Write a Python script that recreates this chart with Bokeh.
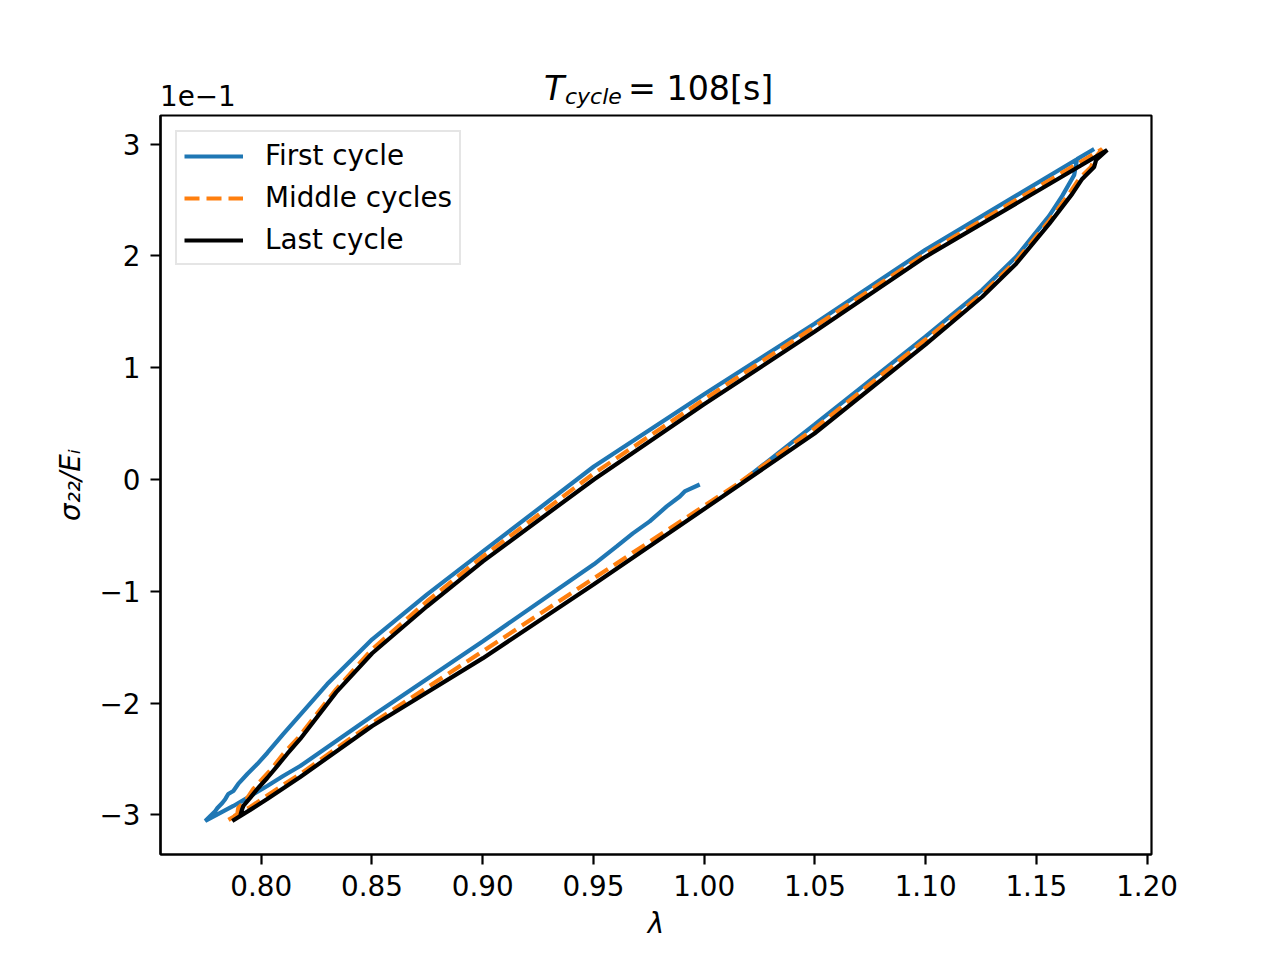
from bokeh.plotting import figure
from bokeh.layouts import column
from bokeh.models import (Range1d, FixedTicker, CustomJSTickFormatter,
                          Legend, LegendItem, Div)
from bokeh.embed import file_html
from bokeh.resources import INLINE

# ---------------- data (lambda, sigma22/E_i) ----------------
first_lam = [0.9980, 0.9912, 0.9890, 0.9831, 0.9754, 0.9678, 0.9605, 0.9502,
             0.9001, 0.8501, 0.8176, 0.8099, 0.8027, 0.7937, 0.7874, 0.7815,
             0.7747,
             0.7793, 0.7802, 0.7824, 0.7838, 0.7851, 0.7874, 0.7896, 0.7937,
             0.7982, 0.8027, 0.8099, 0.8298, 0.8501, 0.8749,
             0.9001, 0.9502, 0.9998, 1.0498, 1.0999, 1.1761,
             1.1684, 1.1671, 1.1617, 1.1558, 1.1409, 1.1256, 1.0999, 1.0498,
             1.0183]
first_sig = [-0.0045, -0.0107, -0.0152, -0.0241, -0.0375, -0.0482, -0.0598, -0.0759,
             -0.1446, -0.2116, -0.2563, -0.2652, -0.2741, -0.2848, -0.2920, -0.2982,
             -0.3054,
             -0.2964, -0.2938, -0.2893, -0.2857, -0.2813, -0.2786, -0.2723, -0.2634,
             -0.2545, -0.2446, -0.2277, -0.1830, -0.1429, -0.1027,
             -0.0643, 0.0116, 0.0759, 0.1393, 0.2054, 0.2955,
             0.2866, 0.2723, 0.2536, 0.2357, 0.1991, 0.1696, 0.1277, 0.0491,
             0.0000]

middle_lam = [1.0147, 0.9502, 0.9001, 0.8501, 0.8176, 0.8099, 0.7950, 0.7851,
              0.7892, 0.7896, 0.7928, 0.7964, 0.8005, 0.8050, 0.8099, 0.8162,
              0.8339, 0.8501, 0.8749, 0.9001, 0.9502, 0.9998, 1.0498, 1.0999,
              1.1797,
              1.1761, 1.1747, 1.1693, 1.1648, 1.1558, 1.1409, 1.1256, 1.0999,
              1.0498, 1.0147]
middle_sig = [-0.0045, -0.0884, -0.1536, -0.2179, -0.2634, -0.2732, -0.2929, -0.3045,
              -0.2991, -0.2938, -0.2875, -0.2768, -0.2679, -0.2580, -0.2455, -0.2321,
              -0.1875, -0.1518, -0.1089, -0.0688, 0.0054, 0.0714, 0.1366, 0.2018,
              0.2955,
              0.2866, 0.2795, 0.2688, 0.2554, 0.2313, 0.1955, 0.1661, 0.1250,
              0.0455, -0.0045]

last_lam = [1.0169, 0.9502, 0.9001, 0.8501, 0.8176, 0.8027, 0.7950, 0.7869,
            0.7905, 0.7914, 0.7919, 0.7950, 0.7986, 0.8027, 0.8072, 0.8117,
            0.8176, 0.8339, 0.8501, 0.8749, 0.9001, 0.9502, 0.9998, 1.0498,
            1.0999, 1.1820,
            1.1770, 1.1761, 1.1707, 1.1662, 1.1558, 1.1409, 1.1256, 1.0999,
            1.0498, 1.0169]
last_sig = [-0.0036, -0.0938, -0.1598, -0.2205, -0.2661, -0.2857, -0.2955, -0.3054,
            -0.3009, -0.2946, -0.2920, -0.2848, -0.2759, -0.2670, -0.2563, -0.2455,
            -0.2321, -0.1902, -0.1554, -0.1134, -0.0732, 0.0000, 0.0670, 0.1321,
            0.1991, 0.2946,
            0.2857, 0.2795, 0.2688, 0.2554, 0.2286, 0.1929, 0.1634, 0.1205,
            0.0411, -0.0036]

x_ticks = [0.80, 0.85, 0.90, 0.95, 1.00, 1.05, 1.10, 1.15, 1.20]
y_ticks = [-0.3, -0.2, -0.1, 0.0, 0.1, 0.2, 0.3]
series_names = ["First cycle", "Middle cycles", "Last cycle"]
title_parts = ["T", "cycle", "= 108[s]"]
offset_text = "1e\u22121"

FONT = "DejaVu Sans"
X_LO, X_HI = 0.7545, 1.2020
Y_LO, Y_HI = -0.3354, 0.3255

W = 1272
HEAD_H = 113

# ---------- header (HTML) carrying the title and the axis offset text ----------
def span(left, top, size, txt, italic=False):
    st = "italic" if italic else "normal"
    return (f'<span style="position:absolute;left:{left}px;top:{top}px;'
            f'font-size:{size}px;line-height:1;font-style:{st};'
            f'white-space:nowrap;">{txt}</span>')

head_html = (
    f'<div style="position:relative;width:{W}px;height:{HEAD_H}px;'
    f'overflow:visible;font-family:\'DejaVu Sans\';color:black;">'
    + span(544, 71.8, 33.3, title_parts[0], True)
    + span(565, 86.4, 22, title_parts[1], True)
    + span(628, 71.8, 33.3, title_parts[2])
    + span(160, 82.5, 27.8, offset_text)
    + '</div>')
head = Div(text=head_html, width=W, height=HEAD_H, margin=(0, 0, 0, 0))

# ---------------- main plot ----------------
p = figure(width=W, height=952 - HEAD_H, output_backend="svg", toolbar_location=None,
           x_range=Range1d(X_LO, X_HI), y_range=Range1d(Y_LO, Y_HI),
           min_border_left=160, min_border_right=W - 160 - 991,
           min_border_top=2, min_border_bottom=98)
p.grid.visible = False
p.outline_line_color = "black"
p.outline_line_width = 2.2
p.background_fill_color = "white"
p.border_fill_color = "white"

r1 = p.line(first_lam, first_sig, line_color="#1f77b4", line_width=4.2)
r2 = p.line(middle_lam, middle_sig, line_color="#ff7f0e", line_width=4.2,
            line_dash="15 7")
r3 = p.line(last_lam, last_sig, line_color="black", line_width=4.2)

for ax in (p.xaxis[0], p.yaxis[0]):
    ax.axis_line_width = 2.2
    ax.major_tick_line_width = 2.2
    ax.major_tick_out = 10
    ax.major_tick_in = 0
    ax.minor_tick_out = 0
    ax.minor_tick_in = 0
    ax.major_label_text_font = FONT
    ax.major_label_text_font_size = "27.8px"
    ax.major_label_text_color = "black"
    ax.major_label_standoff = 10
    ax.axis_label_text_font = FONT
    ax.axis_label_text_font_size = "27.8px"
    ax.axis_label_text_font_style = "italic"
    ax.axis_label_text_color = "black"

p.xaxis.ticker = FixedTicker(ticks=x_ticks)
p.xaxis.formatter = CustomJSTickFormatter(code="return tick.toFixed(2);")
p.yaxis.ticker = FixedTicker(ticks=y_ticks)
p.yaxis.formatter = CustomJSTickFormatter(
    code="const v = Math.round(tick*10); return v < 0 ? '\u2212' + Math.abs(v) : String(v);")
p.xaxis.axis_label = "\u03bb"
p.xaxis.axis_label_standoff = 8
p.yaxis.axis_label = "\u03c3\u2082\u2082/E\u1d62"
p.yaxis.axis_label_standoff = 10

legend = Legend(items=[LegendItem(label=series_names[0], renderers=[r1]),
                       LegendItem(label=series_names[1], renderers=[r2]),
                       LegendItem(label=series_names[2], renderers=[r3])],
                location="top_left", margin=15, padding=7,
                glyph_width=59, glyph_height=28, label_height=28,
                label_standoff=22, spacing=9,
                label_text_font=FONT, label_text_font_size="27.8px",
                label_text_color="black",
                border_line_color="#cccccc", border_line_width=2.5,
                background_fill_alpha=0.8)
p.add_layout(legend)

layout = column(head, p, spacing=0)
open("out.html", "w").write(file_html(layout, INLINE))
